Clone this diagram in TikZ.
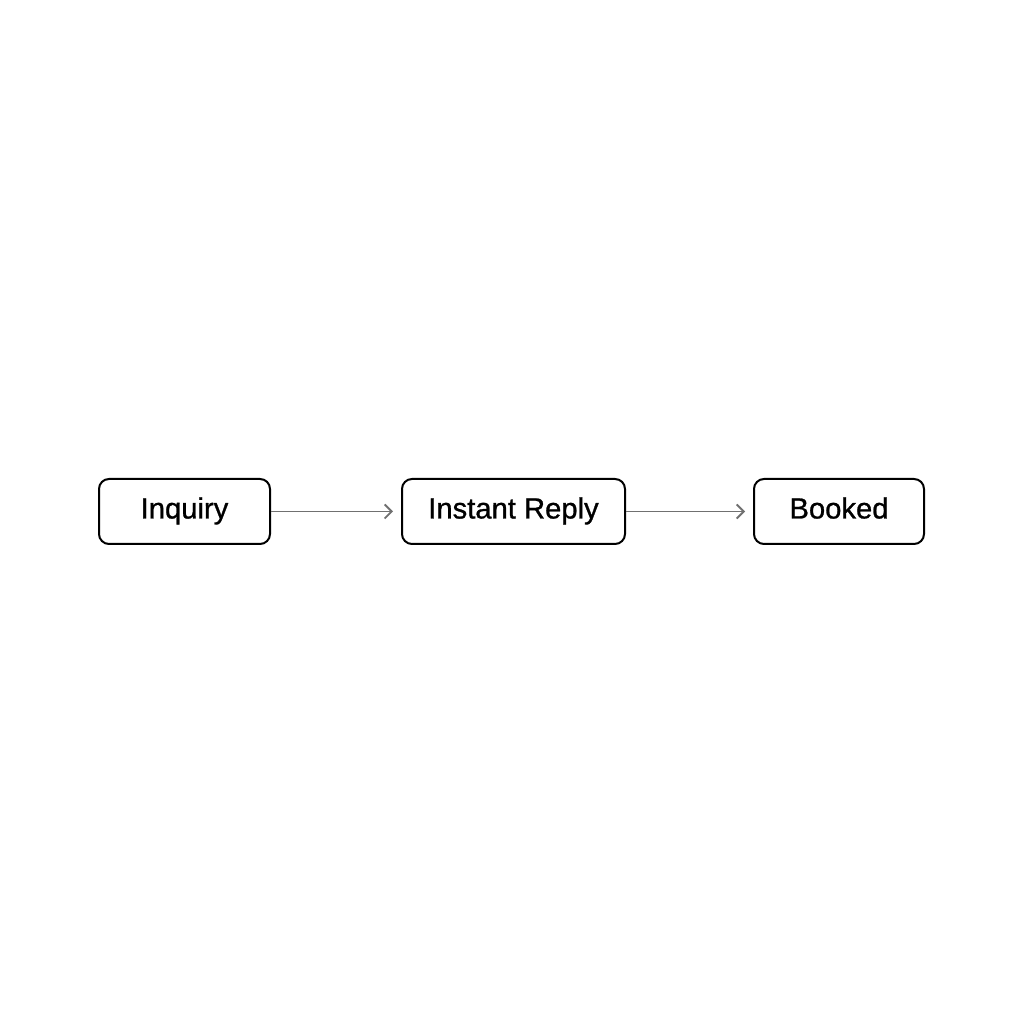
\documentclass[tikz,border=0pt]{standalone}
\usepackage{fontspec}
\setmainfont{Liberation Sans}
\newfontfamily\medfont{Liberation Sans}[FakeBold=0.9]
\usetikzlibrary{arrows.meta}
\definecolor{arrowgray}{HTML}{707070}
\begin{document}
\begin{tikzpicture}[x=1pt,y=1pt,
  stagebox/.style={draw=black,line width=2pt,rounded corners=10pt,minimum height=65pt,inner sep=0pt,text height=21.5pt,text depth=7.5pt,font=\medfont\fontsize{29.2}{32}\selectfont,fill=white},
  flow/.style={draw=arrowgray,line width=1.8pt,-{Straight Barb[length=7pt,width=14pt,line width=1.8pt]}}]
\fill[white] (0,0) rectangle (1024,1024);
\useasboundingbox (0,0) rectangle (1024,1024);
\node[stagebox,minimum width=171pt] (inq) at (184.5,512.5) {Inquiry};
\node[stagebox,minimum width=223pt] (rep) at (513.5,512.5) {Instant Reply};
\node[stagebox,minimum width=170pt] (bk) at (839,512.5) {Booked};
\draw[flow,shorten >=8pt] (inq.east) -- (rep.west);
\draw[flow,shorten >=8pt] (rep.east) -- (bk.west);
\end{tikzpicture}
\end{document}
